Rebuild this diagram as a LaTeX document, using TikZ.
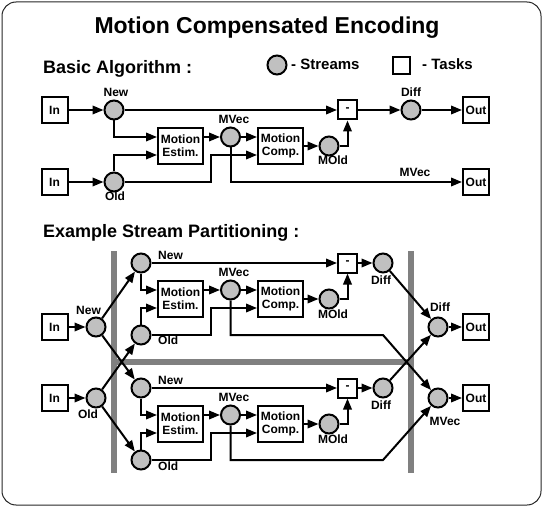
\documentclass[tikz,border=0pt]{standalone}
\usepackage{fontspec}
\setmainfont{Liberation Sans}
\usetikzlibrary{arrows.meta}
\definecolor{streamgray}{RGB}{192,192,192}
\definecolor{bargray}{RGB}{128,128,128}

\begin{document}
\begin{tikzpicture}
[every node/.style={inner sep=0pt, font=\fontsize{12}{13.3}\selectfont\bfseries},
 stream/.style={circle, minimum size=19pt, fill=streamgray, line width=2pt, draw=black},
 task/.style={rectangle, minimum width=26pt, minimum height=26pt, fill=white, line width=2pt, draw=black},
 motion/.style={task, minimum width=45pt, minimum height=36pt, align=center},
 minus/.style={task, minimum width=19pt, minimum height=19pt},
 lbl/.style={anchor=base},
 heading/.style={anchor=base west, font=\fontsize{18}{22}\selectfont\bfseries},
 link/.style={line width=2pt, ->, color=black},
 bar/.style={line width=6pt, color=bargray},
 >={Triangle[length=11pt, width=8.5pt]}]
\useasboundingbox (0,0) rectangle (544pt,-508pt);
\draw [line width=1pt, rounded corners=14pt, color=black!85] (2pt,-2pt) rectangle (541pt,-505pt);
\node (title) [anchor=base, font=\fontsize{23}{27}\selectfont\bfseries] at (267pt,-33.3pt) {Motion Compensated Encoding};
\node (basic) [heading] at (43pt,-74pt) {Basic Algorithm :};
\node (example) [heading] at (43pt,-237pt) {Example Stream Partitioning :};
\node (key1) [stream] at (277pt,-65pt) {};
\node (keytext1) [anchor=base west, font=\fontsize{15}{18}\selectfont\bfseries] at (291pt,-69.5pt) {- Streams};
\node (key2) [task, minimum width=17pt, minimum height=17pt] at (401.5pt,-65.5pt) {};
\node (keytext2) [anchor=base west, font=\fontsize{15}{18}\selectfont\bfseries] at (422pt,-69.5pt) {- Tasks};

% basic algorithm
\node (in1) [task] at (54.5pt,-110pt) {In};
\node (in2) [task] at (54.5pt,-182pt) {In};
\node (new1) [stream] at (114pt,-110pt) {};
\node (old1) [stream] at (114pt,-182pt) {};
\node (est1) [motion] at (180.5pt,-146pt) {Motion\\Estim.};
\node (mvec1) [stream] at (230.5pt,-137pt) {};
\node (comp1) [motion] at (280.5pt,-146pt) {Motion\\Comp.};
\node (mold1) [stream] at (329pt,-146pt) {};
\node (sub1) [minus] at (347.5pt,-110pt) {-};
\node (diff1) [stream] at (411pt,-110pt) {};
\node (out1) [task] at (476pt,-110pt) {Out};
\node (out2) [task] at (476pt,-182pt) {Out};
\node (lnew1) [lbl] at (116pt,-97pt) {New};
\node (lold1) [lbl] at (115pt,-200.5pt) {Old};
\node (lmvec1) [lbl] at (234pt,-123.5pt) {MVec};
\node (lmold1) [lbl] at (333pt,-165pt) {MOld};
\node (ldiff1) [lbl] at (411pt,-97pt) {Diff};
\node (lmvec1b) [lbl] at (415pt,-177pt) {MVec};
\draw [link] (in1) -- (new1);
\draw [link] (in2) -- (old1);
\draw [link] (new1) -- (sub1);
\draw [link] (new1) |- ([yshift=9pt]est1.west);
\draw [link] (old1) |- ([yshift=-9pt]est1.west);
\draw [link] (old1) -| ([xshift=-46pt, yshift=-9pt]comp1.west) -- ([yshift=-9pt]comp1.west);
\draw [link] ([yshift=9pt]est1.east) -- (mvec1);
\draw [link] (mvec1) -- ([yshift=9pt]comp1.west);
\draw [link] (mvec1) |- (out2);
\draw [link] (comp1) -- (mold1);
\draw [link] (mold1) -| (sub1);
\draw [link] (sub1) -- (diff1);
\draw [link] (diff1) -- (out1);

% partitioning
\draw [bar] (113.5pt,-251pt) -- (113.5pt,-473pt);
\draw [bar] (411pt,-251pt) -- (411pt,-473pt);
\draw [bar] (113.5pt,-362pt) -- (411pt,-362pt);
\node (inA) [task] at (54.5pt,-327pt) {In};
\node (inB) [task] at (54.5pt,-398pt) {In};
\node (newA) [stream] at (96pt,-327pt) {};
\node (oldB) [stream] at (96pt,-398pt) {};
\node (lnewA) [lbl] at (88.5pt,-314pt) {New};
\node (loldB) [lbl] at (88pt,-418pt) {Old};
\node (new2) [stream] at (141pt,-263pt) {};
\node (old2) [stream] at (141pt,-335pt) {};
\node (est2) [motion] at (180.5pt,-299pt) {Motion\\Estim.};
\node (mvec2) [stream] at (230.5pt,-290pt) {};
\node (comp2) [motion] at (280.5pt,-299pt) {Motion\\Comp.};
\node (mold2) [stream] at (329pt,-299pt) {};
\node (sub2) [minus] at (347.5pt,-263pt) {-};
\node (diff2) [stream] at (383pt,-263pt) {};
\node (lnew2) [anchor=base west] at (158pt,-259.5pt) {New};
\node (lold2) [anchor=base west] at (158pt,-344.5pt) {Old};
\node (lmvec2) [lbl] at (234pt,-276.5pt) {MVec};
\node (lmold2) [lbl] at (333pt,-318pt) {MOld};
\node (ldiff2) [lbl] at (381pt,-284pt) {Diff};
\node (new3) [stream] at (141pt,-388pt) {};
\node (old3) [stream] at (141pt,-460pt) {};
\node (est3) [motion] at (180.5pt,-424pt) {Motion\\Estim.};
\node (mvec3) [stream] at (230.5pt,-415pt) {};
\node (comp3) [motion] at (280.5pt,-424pt) {Motion\\Comp.};
\node (mold3) [stream] at (329pt,-424pt) {};
\node (sub3) [minus] at (347.5pt,-388pt) {-};
\node (diff3) [stream] at (383pt,-388pt) {};
\node (lnew3) [anchor=base west] at (158pt,-384.5pt) {New};
\node (lold3) [anchor=base west] at (158pt,-470.5pt) {Old};
\node (lmvec3) [lbl] at (234pt,-401.5pt) {MVec};
\node (lmold3) [lbl] at (333pt,-443pt) {MOld};
\node (ldiff3) [lbl] at (381pt,-409pt) {Diff};
\node (diffF) [stream] at (438pt,-327pt) {};
\node (mvecF) [stream] at (438pt,-398pt) {};
\node (outA) [task] at (476pt,-327pt) {Out};
\node (outB) [task] at (476pt,-398pt) {Out};
\node (ldiffF) [lbl] at (440pt,-311.5pt) {Diff};
\node (lmvecF) [lbl] at (445pt,-425.5pt) {MVec};
\draw [link] (inA) -- (newA);
\draw [link] (inB) -- (oldB);
\draw [link] (newA) -- (new2);
\draw [link] (newA) -- (new3);
\draw [link] (oldB) -- (old2);
\draw [link] (oldB) -- (old3);
\draw [link] (new2) -- (sub2);
\draw [link] (new2) |- ([yshift=9pt]est2.west);
\draw [link] (old2) |- ([yshift=-9pt]est2.west);
\draw [link] (old2) -| ([xshift=-46pt, yshift=-9pt]comp2.west) -- ([yshift=-9pt]comp2.west);
\draw [link] ([yshift=9pt]est2.east) -- (mvec2);
\draw [link] (mvec2) -- ([yshift=9pt]comp2.west);
\draw [link] (comp2) -- (mold2);
\draw [link] (mold2) -| (sub2);
\draw [link] (sub2) -- (diff2);
\draw [link] (new3) -- (sub3);
\draw [link] (new3) |- ([yshift=9pt]est3.west);
\draw [link] (old3) |- ([yshift=-9pt]est3.west);
\draw [link] (old3) -| ([xshift=-46pt, yshift=-9pt]comp3.west) -- ([yshift=-9pt]comp3.west);
\draw [link] ([yshift=9pt]est3.east) -- (mvec3);
\draw [link] (mvec3) -- ([yshift=9pt]comp3.west);
\draw [link] (comp3) -- (mold3);
\draw [link] (mold3) -| (sub3);
\draw [link] (sub3) -- (diff3);
\draw [link] (diff2) -- (diffF);
\draw [link] (diff3) -- (diffF);
\draw [link] (mvec2) |- (diff2 |- old2) -- (mvecF);
\draw [link] (mvec3) |- (diff3 |- old3) -- (mvecF);
\draw [link] (diffF) -- (outA);
\draw [link] (mvecF) -- (outB);
\end{tikzpicture}
\end{document}
